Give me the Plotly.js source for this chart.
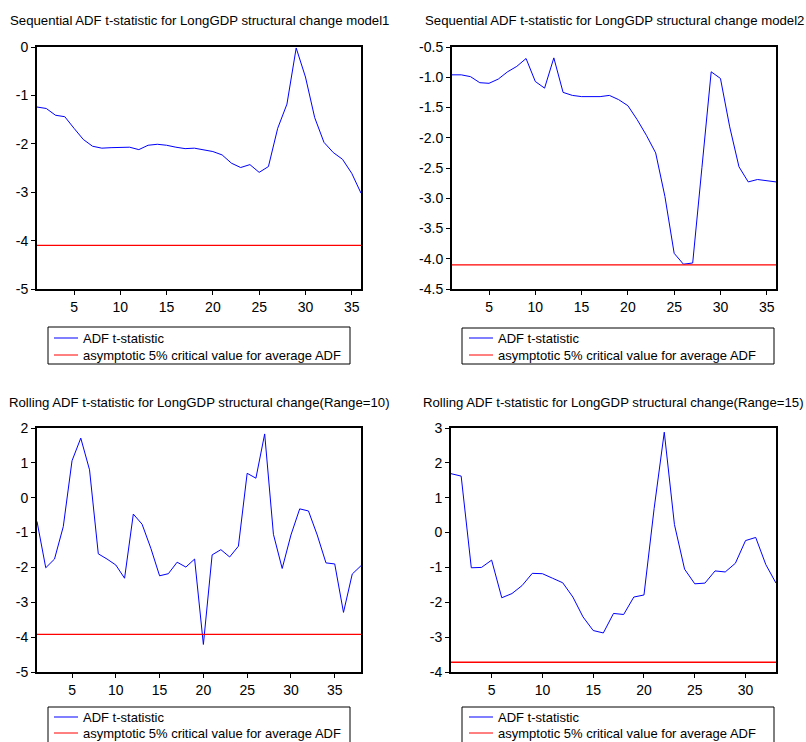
<!DOCTYPE html>
<html>
<head>
<meta charset="utf-8">
<script src="https://cdn.plot.ly/plotly-3.0.1.min.js"></script>
<style>html,body{margin:0;padding:0;background:#fff;overflow:hidden;}#chart{width:806px;height:742px;}</style>
</head>
<body>
<div id="chart"></div>
<script>
// ---- Data ----
const titles = [
  "Sequential ADF t-statistic for LongGDP structural change model1",
  "Sequential ADF t-statistic for LongGDP structural change model2",
  "Rolling ADF t-statistic for LongGDP structural change(Range=10)",
  "Rolling ADF t-statistic for LongGDP structural change(Range=15)"
];
const seriesName = "ADF t-statistic";
const critName = "asymptotic 5% critical value for average ADF";

const adfModel1 = [-1.24,-1.27,-1.41,-1.44,-1.68,-1.91,-2.05,-2.09,-2.08,-2.07,-2.07,-2.12,-2.03,-2.01,-2.03,-2.07,-2.10,-2.09,-2.12,-2.16,-2.23,-2.40,-2.49,-2.43,-2.59,-2.47,-1.68,-1.18,-0.02,-0.62,-1.46,-1.97,-2.18,-2.32,-2.61,-3.02];
const adfModel2 = [-0.96,-0.96,-0.99,-1.09,-1.10,-1.03,-0.91,-0.82,-0.69,-1.07,-1.18,-0.68,-1.25,-1.30,-1.32,-1.32,-1.32,-1.30,-1.37,-1.47,-1.70,-1.96,-2.25,-2.97,-3.91,-4.09,-4.07,-2.49,-0.91,-1.02,-1.82,-2.48,-2.73,-2.69,-2.71,-2.73];
const adfRoll10 = [-0.68,-2.01,-1.76,-0.83,1.06,1.71,0.80,-1.61,-1.76,-1.93,-2.31,-0.47,-0.76,-1.45,-2.24,-2.18,-1.85,-1.99,-1.76,-4.21,-1.64,-1.49,-1.70,-1.39,0.70,0.56,1.83,-1.05,-2.03,-1.07,-0.32,-0.38,-1.07,-1.87,-1.90,-3.29,-2.19,-1.95];
const adfRoll15 = [1.69,1.62,-1.01,-1.00,-0.79,-1.87,-1.75,-1.52,-1.17,-1.18,-1.31,-1.44,-1.85,-2.42,-2.81,-2.88,-2.32,-2.35,-1.85,-1.79,0.69,2.88,0.23,-1.05,-1.47,-1.45,-1.10,-1.13,-0.88,-0.23,-0.14,-0.92,-1.45];
const critValues = [-4.10, -4.10, -3.92, -3.72];

const yRanges = [[-5,0],[-4.5,-0.5],[-5,2],[-4,3]];
const yTickVals = [
  [0,-1,-2,-3,-4,-5],
  [-0.5,-1.0,-1.5,-2.0,-2.5,-3.0,-3.5,-4.0,-4.5],
  [2,1,0,-1,-2,-3,-4,-5],
  [3,2,1,0,-1,-2,-3,-4]
];
const yTickText = [
  ["0","-1","-2","-3","-4","-5"],
  ["-0.5","-1.0","-1.5","-2.0","-2.5","-3.0","-3.5","-4.0","-4.5"],
  ["2","1","0","-1","-2","-3","-4","-5"],
  ["3","2","1","0","-1","-2","-3","-4"]
];
const xTickVals = [
  [5,10,15,20,25,30,35],
  [5,10,15,20,25,30,35],
  [5,10,15,20,25,30,35],
  [5,10,15,20,25,30]
];

// ---- Layout geometry (pixels) ----
const W = 806, H = 742;
const boxes = [
  {l:37, r:361, t:47, b:289, leg:{l:48, r:350, t:327, b:364, row1:338, row2:355, s0:54, s1:78, tx:82}},
  {l:452, r:776, t:47, b:289, leg:{l:462, r:774, t:328, b:364, row1:338, row2:355, s0:469, s1:493, tx:497}},
  {l:37, r:361, t:428, b:672, leg:{l:48, r:350, t:707, b:760, row1:717, row2:733, s0:54, s1:78, tx:82}},
  {l:451, r:776, t:428, b:672, leg:{l:462, r:774, t:707, b:760, row1:717, row2:733, s0:469, s1:493, tx:497}}
];
const titleY = [20, 20, 402, 402];

const allSeries = [adfModel1, adfModel2, adfRoll10, adfRoll15];
const FONT = "Arial, 'Liberation Sans', sans-serif";
const BLUE = "#0000FF", RED = "#FF0000";

const px = v => v / W;
const py = v => 1 - v / H;

const traces = [];
const layout = {
  width: W, height: H,
  margin: {l:0, r:0, t:0, b:0},
  paper_bgcolor: "#fff", plot_bgcolor: "#fff",
  font: {family: FONT, color: "#000", size: 13},
  showlegend: false,
  annotations: [], shapes: []
};

allSeries.forEach((ys, i) => {
  const n = ys.length;
  const xs = ys.map((_, k) => k + 1);
  const sfx = i === 0 ? "" : String(i + 1);
  traces.push({
    x: xs, y: ys, type: "scatter", mode: "lines",
    name: seriesName, line: {color: BLUE, width: 1},
    xaxis: "x" + sfx, yaxis: "y" + sfx
  });
  traces.push({
    x: [1, n], y: [critValues[i], critValues[i]], type: "scatter", mode: "lines",
    name: critName, line: {color: RED, width: 1.3},
    xaxis: "x" + sfx, yaxis: "y" + sfx
  });
  const b = boxes[i];
  const axCommon = {
    showline: true, linecolor: "#000", linewidth: 2, mirror: true,
    ticks: "outside", ticklen: 4, tickwidth: 1, tickcolor: "#000",
    showgrid: false, zeroline: false,
    tickfont: {family: FONT, size: 14, color: "#000"}
  };
  layout["xaxis" + sfx] = Object.assign({}, axCommon, {
    domain: [px(b.l), px(b.r)],
    range: [1, n], tickmode: "array", tickvals: xTickVals[i],
    anchor: "y" + sfx
  });
  layout["yaxis" + sfx] = Object.assign({}, axCommon, {
    domain: [py(b.b), py(b.t)],
    range: yRanges[i], tickmode: "array", tickvals: yTickVals[i], ticktext: yTickText[i],
    anchor: "x" + sfx
  });
  // title
  layout.annotations.push({
    text: titles[i], xref: "paper", yref: "paper",
    x: px((b.l + b.r) / 2), y: py(titleY[i]),
    xanchor: "center", yanchor: "middle", showarrow: false, borderpad: 0,
    font: {family: FONT, size: 13.2, color: "#000"}
  });
  // legend box
  const L = b.leg;
  layout.shapes.push({
    type: "rect", xref: "paper", yref: "paper",
    x0: px(L.l), x1: px(L.r), y0: py(L.b), y1: py(L.t),
    line: {color: "#000", width: 1}, fillcolor: "rgba(0,0,0,0)"
  });
  [[L.row1, BLUE, seriesName], [L.row2, RED, critName]].forEach(([ry, col, label]) => {
    layout.shapes.push({
      type: "line", xref: "paper", yref: "paper",
      x0: px(L.s0), x1: px(L.s1), y0: py(ry), y1: py(ry),
      line: {color: col, width: 1}
    });
    layout.annotations.push({
      text: label, xref: "paper", yref: "paper",
      x: px(L.tx), y: py(ry), xanchor: "left", yanchor: "middle",
      showarrow: false, borderpad: 0,
      font: {family: FONT, size: 13, color: "#000"}
    });
  });
});

Plotly.newPlot("chart", traces, layout, {staticPlot: true, displayModeBar: false});
</script>
</body>
</html>
